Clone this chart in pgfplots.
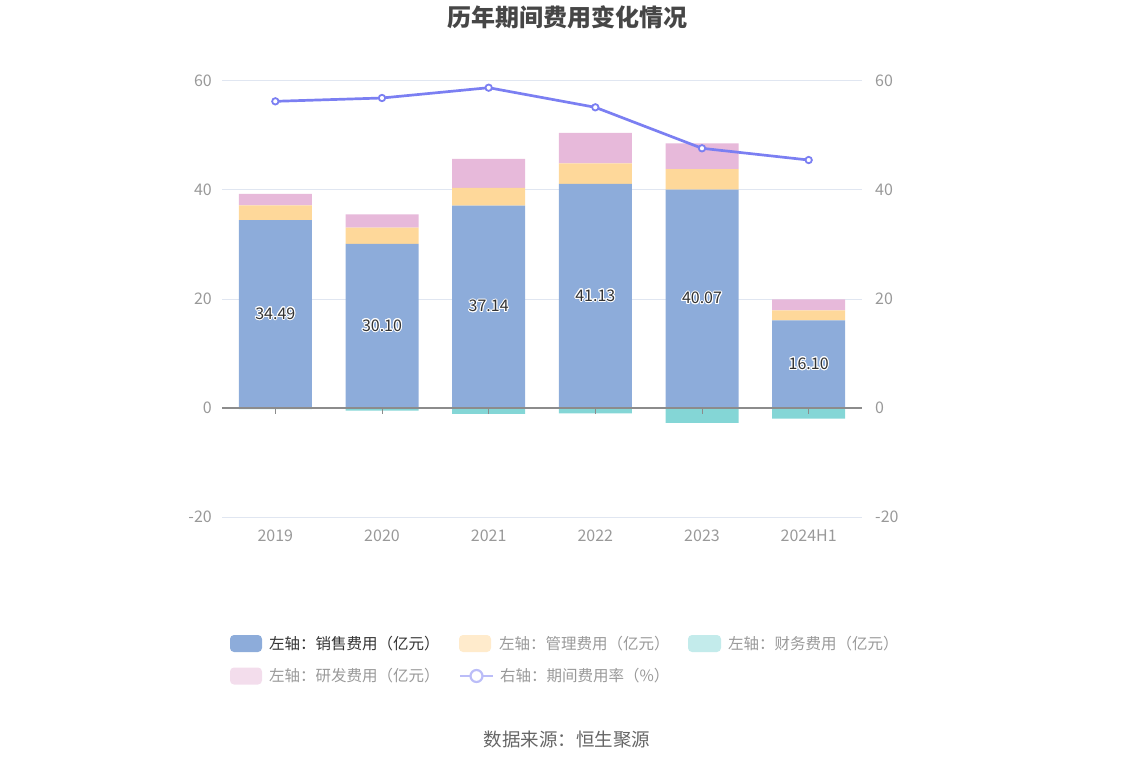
\documentclass[border=0pt]{standalone}
\usepackage{pgfplots}
\pgfplotsset{compat=1.18}
\usepackage{fontspec}
\setmainfont{Noto Sans CJK SC}
\usepackage[copies]{contour}
\contourlength{1.0pt}
\definecolor{sales}{HTML}{8DACDA}
\definecolor{admin}{HTML}{FED89A}
\definecolor{fin}{HTML}{84D6D6}
\definecolor{rnd}{HTML}{E7B9DA}
\definecolor{rate}{HTML}{7B7FF2}
\definecolor{adminL}{HTML}{FFEBCC}
\definecolor{finL}{HTML}{C3EBEB}
\definecolor{rndL}{HTML}{F3DDEC}
\definecolor{rateL}{HTML}{BBBDF8}
\definecolor{gridc}{HTML}{E0E6F1}
\definecolor{axisc}{HTML}{8C8C8C}
\definecolor{lab}{HTML}{999999}
\definecolor{ttl}{HTML}{464646}
\begin{document}
\begin{tikzpicture}[x=1pt,y=1pt]
\begin{axis}[
  name=ax1,
  scale only axis,
  width=640pt, height=436pt,
  xmin=-0.5, xmax=5.5, ymin=-20, ymax=60,
  ybar stacked, bar width=73pt,
  axis line style={draw=none},
  ytick={-20,0,20,40,60},
  ymajorgrids, grid style={gridc, line width=1pt},
  major tick length=0pt,
  xtick={0,1,2,3,4,5},
  xticklabels={2019,2020,2021,2022,2023,2024H1},
  /pgf/number format/assume math mode=true,
  yticklabel style={anchor=east, inner sep=0pt, xshift=-10pt, text=lab, font=\fontsize{16}{18}\selectfont},
  xticklabel style={anchor=base, inner sep=0pt, yshift=-24pt, text=lab, font=\fontsize{16}{18}\selectfont},
  clip=false,
]
\addplot[fill=sales, draw=none] coordinates {(0,34.49) (1,30.10) (2,37.14) (3,41.13) (4,40.07) (5,16.10)};
\addplot[fill=admin, draw=none] coordinates {(0,2.70) (1,2.98) (2,3.23) (3,3.77) (4,3.78) (5,1.83)};
\addplot[fill=rnd, draw=none] coordinates {(0,2.08) (1,2.46) (2,5.32) (3,5.56) (4,4.72) (5,2.01)};
\coordinate (O) at (axis cs:-0.5,-20);
\end{axis}
\begin{axis}[
  scale only axis,
  width=640pt, height=436pt,
  xmin=-0.5, xmax=5.5, ymin=-20, ymax=60,
  axis line style={draw=none},
  ytick={-20,0,20,40,60},
  xtick=\empty,
  yticklabel pos=right,
  major tick length=0pt,
  /pgf/number format/assume math mode=true,
  yticklabel style={anchor=west, inner sep=0pt, xshift=13pt, text=lab, font=\fontsize{16}{18}\selectfont},
  clip=false,
]
\addplot[ybar, bar shift=0pt, bar width=73pt, fill=fin, draw=none] coordinates {(0,-0.2) (1,-0.5) (2,-1.1) (3,-1.0) (4,-2.75) (5,-1.95)};
\draw[axisc, line width=1.2pt] (axis cs:-0.5,0) -- (axis cs:5.5,0);
\pgfplotsinvokeforeach{0,...,5}{\draw[axisc, line width=1pt] (axis cs:#1,0) -- ([yshift=-6pt]axis cs:#1,0);}
\addplot[draw=none, mark=none, point meta=explicit symbolic,
  nodes near coords={\contour{white}{\pgfplotspointmeta}},
  nodes near coords style={anchor=center, text=black!80, font=\fontsize{16}{18}\selectfont}]
  table[meta=lab] {
x y lab
0 17.25 34.49
1 15.05 30.10
2 18.57 37.14
3 20.57 41.13
4 20.04 40.07
5 8.05 16.10
};
\addplot[rate, line width=2.7pt, mark=*, mark size=3.2pt, mark options={fill=white, draw=rate, line width=1.8pt}]
  coordinates {(0,56.27) (1,56.88) (2,58.77) (3,55.17) (4,47.65) (5,45.5)};
\end{axis}
\begin{scope}[shift={(O)}, xshift=-222pt, yshift=-249pt]
\path[use as bounding box] (0,0) rectangle (1134,766);
% title
\node[text=ttl, font=\bfseries\fontsize{24}{27}\selectfont] at (567,749) {历年期间费用变化情况};
% legend
\def\lf{\fontsize{15.5}{18}\selectfont}
\fill[sales, rounded corners=4pt] (230,114) rectangle (262,131);
\node[anchor=west, inner sep=0pt, text=black!80, font=\lf] at (269,122.5) {左轴：销售费用（亿元）};
\fill[adminL, rounded corners=4pt] (459,114) rectangle (491,131);
\node[anchor=west, inner sep=0pt, text=lab, font=\lf] at (499,122.5) {左轴：管理费用（亿元）};
\fill[finL, rounded corners=4pt] (688,114) rectangle (721,131);
\node[anchor=west, inner sep=0pt, text=lab, font=\lf] at (728,122.5) {左轴：财务费用（亿元）};
\fill[rndL, rounded corners=4pt] (230,81.5) rectangle (262,98.5);
\node[anchor=west, inner sep=0pt, text=lab, font=\lf] at (269,90) {左轴：研发费用（亿元）};
\draw[rateL, line width=2.5pt] (460,90) -- (493,90);
\draw[rateL, line width=2.2pt, fill=white] (476.5,90) circle (6);
\node[anchor=west, inner sep=0pt, text=lab, font=\lf] at (500,90) {右轴：期间费用率（\%）};
% source
\node[text=black!60, font=\fontsize{18.5}{22}\selectfont] at (567,26) {数据来源：恒生聚源};
\end{scope}
\end{tikzpicture}
\end{document}
